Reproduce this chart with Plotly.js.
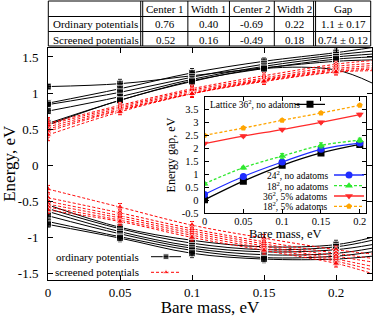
<!DOCTYPE html>
<html><head><meta charset="utf-8">
<script src="https://cdn.plot.ly/plotly-3.0.1.min.js"></script>
<style>html,body{margin:0;padding:0;background:#fff}#chart{width:374px;height:317px}</style>
</head><body><div id="chart"></div>
<script>
// ---------- main plot data ----------
const massMain = [0, 0.05, 0.1, 0.15, 0.2, 0.225];
// ordinary potentials, upper branch
const ordUp1 = [1.09, 1.13, 1.24, 1.35, 1.44, 1.46];
const ordUp2 = [0.86, 1.06, 1.28, 1.44, 1.56, 1.63];
const ordUp3 = [0.84, 1.01, 1.22, 1.40, 1.53, 1.58];
const ordUp4 = [0.75, 0.95, 1.19, 1.37, 1.50, 1.54];
const ordUp5 = [0.58, 0.90, 1.17, 1.34, 1.47, 1.50];
const ordUp6 = [0.56, 0.90, 1.16, 1.34, 1.32, 1.14];
// ordinary potentials, lower branch
const ordLo1 = [-0.55, -0.86, -1.04, -1.13, -1.10, -1.00];
const ordLo2 = [-0.60, -0.88, -1.08, -1.17, -1.13, -1.04];
const ordLo3 = [-0.64, -0.92, -1.12, -1.20, -1.17, -1.10];
const ordLo4 = [-0.70, -0.95, -1.15, -1.24, -1.22, -1.15];
const ordLo5 = [-0.78, -0.99, -1.18, -1.28, -1.26, -1.20];
const ordLo6 = [-0.82, -1.01, -1.22, -1.30, -1.30, -1.26];
// screened potentials, upper branch
const scrUp1 = [0.58, 0.83, 1.06, 1.24, 1.40, 1.45];
const scrUp2 = [0.56, 0.81, 1.04, 1.21, 1.37, 1.41];
const scrUp3 = [0.53, 0.79, 1.02, 1.19, 1.34, 1.38];
const scrUp4 = [0.50, 0.77, 1.00, 1.18, 1.32, 1.35];
const scrUp5 = [0.47, 0.76, 0.99, 1.17, 1.30, 1.33];
const scrUp6 = [0.42, 0.74, 0.99, 1.16, 1.29, 1.31];
// screened potentials, lower branch
const scrLo1 = [-0.33, -0.58, -0.83, -1.01, -1.17, -1.23];
const scrLo2 = [-0.45, -0.66, -0.88, -1.06, -1.22, -1.29];
const scrLo3 = [-0.50, -0.70, -0.91, -1.09, -1.26, -1.34];
const scrLo4 = [-0.54, -0.73, -0.94, -1.12, -1.30, -1.40];
const scrLo5 = [-0.58, -0.76, -0.97, -1.15, -1.33, -1.45];
const scrLo6 = [-0.62, -0.78, -1.00, -1.18, -1.36, -1.50];
// error bars (only at the computed masses 0..0.2)
const errOrdUp = [0.03, 0.06, 0.06, 0.05, 0.05];
const errOrdLo = [0.04, 0.05, 0.06, 0.05, 0.06];
const errScrUp = [0.08, 0.04, 0.05, 0.04, 0.04];
const errScrLo = [0.05, 0.05, 0.05, 0.05, 0.05];

const mainXTicks = [0, 0.05, 0.1, 0.15, 0.2];
const mainXTickText = ['0', '0.05', '0.1', '0.15', '0.2'];
const mainYTicks = [-1.5, -1, -0.5, 0, 0.5, 1, 1.5];
const mainYTickText = ['-1.5', '-1', '-0.5', '0', '0.5', '1', '1.5'];

// ---------- inset data ----------
const massInset = [0, 0.05, 0.1, 0.15, 0.2];
const gapLattice36 = [0.02, 0.74, 1.35, 1.83, 2.16];
const gap24 = [0.23, 0.92, 1.48, 1.97, 2.21];
const gap18 = [0.64, 1.26, 1.71, 2.12, 2.32];
const gap36Adatoms = [2.19, 2.48, 2.73, 3.01, 3.31];
const gap18Adatoms = [2.51, 2.79, 3.09, 3.37, 3.67];
const errLattice36 = [0.03, 0.04, 0.05, 0.05, 0.06];
const err24 = [0.03, 0.04, 0.05, 0.07, 0.06];
const err18 = [0.05, 0.05, 0.10, 0.10, 0.08];
const err36Adatoms = [0.03, 0.04, 0.04, 0.04, 0.05];
const err18Adatoms = [0.03, 0.04, 0.04, 0.04, 0.04];
const insetXTicks = [0, 0.05, 0.1, 0.15, 0.2];
const insetXTickText = ['0', '0.05', '0.1', '0.15', '0.2'];
const insetYTicks = [-0.5, 0, 0.5, 1, 1.5, 2, 2.5, 3, 3.5];
const insetYTickText = ['-0.5', '0', '0.5', '1', '1.5', '2', '2.5', '3', '3.5'];

// ---------- table data ----------
const tableHeader = ['', 'Center 1', 'Width 1', 'Center 2', 'Width 2', 'Gap'];
const rowOrdinary = ['Ordinary potentials', '0.76', '0.40', '-0.69', '0.22', '1.1 ± 0.17'];
const rowScreened = ['Screened potentials', '0.52', '0.16', '-0.49', '0.18', '0.74 ± 0.12'];

// ---------- build ----------
const SERIF = 'Liberation Serif, Times New Roman, serif';
const W = 374, H = 317;
const M = {l: 48, r: 1, t: 1, b: 37};
const PW = W - M.l - M.r, PH = H - M.t - M.b;
const px = x => (x - M.l) / PW;          // pixel -> paper x
const py = y => (H - M.b - y) / PH;      // pixel -> paper y

const traces = [];
function mainSeries(yv, err, color, symbol, size, dash, legendId) {
  const sizes = massMain.map((m, i) => i < err.length ? size : 0);
  traces.push({
    type: 'scatter', mode: 'lines+markers', x: massMain, y: yv,
    xaxis: 'x', yaxis: 'y', name: '',
    showlegend: !!legendId, legend: legendId || 'legend',
    line: {color: color, width: 1, shape: 'spline', dash: dash},
    marker: {color: color, symbol: symbol, size: sizes},
    error_y: {type: 'data', array: err, color: color, thickness: 1, width: 2},
    hoverinfo: 'skip'
  });
}
const ordUp = [ordUp1, ordUp2, ordUp3, ordUp4, ordUp5, ordUp6];
const ordLo = [ordLo1, ordLo2, ordLo3, ordLo4, ordLo5, ordLo6];
const scrUp = [scrUp1, scrUp2, scrUp3, scrUp4, scrUp5, scrUp6];
const scrLo = [scrLo1, scrLo2, scrLo3, scrLo4, scrLo5, scrLo6];
ordUp.forEach((s, i) => mainSeries(s, errOrdUp, '#000000', 'square', 7, 'solid', i === 0 ? 'legend' : null));
ordLo.forEach(s => mainSeries(s, errOrdLo, '#000000', 'square', 7, 'solid', null));
scrUp.forEach((s, i) => mainSeries(s, errScrUp, '#ff0000', 'triangle-up', 7, '3px,2px', i === 0 ? 'legend2' : null));
scrLo.forEach(s => mainSeries(s, errScrLo, '#ff0000', 'triangle-up', 7, '3px,2px', null));

function insetSeries(yv, err, color, symbol, size, dash, legendId) {
  traces.push({
    type: 'scatter', mode: 'lines+markers', x: massInset, y: yv,
    xaxis: 'x2', yaxis: 'y2', name: '', showlegend: true, legend: legendId,
    line: {color: color, width: 1.3, shape: 'spline', dash: dash},
    marker: {color: color, symbol: symbol, size: size},
    error_y: {type: 'data', array: err, color: color, thickness: 1, width: 2},
    hoverinfo: 'skip'
  });
}
insetSeries(gapLattice36, errLattice36, '#000000', 'square', 7, 'solid', 'legend3');
insetSeries(gap24, err24, '#1f2cff', 'circle', 7, 'solid', 'legend4');
insetSeries(gap18, err18, '#2ee82e', 'triangle-up', 7, '3px,2px', 'legend5');
insetSeries(gap36Adatoms, err36Adatoms, '#ff2a2a', 'triangle-down', 7, 'solid', 'legend6');
insetSeries(gap18Adatoms, err18Adatoms, '#ffa500', 'pentagon', 6, '3px,2px', 'legend7');

function legendAt(cx, cy) {
  return {x: px(cx) - 20 / PW, y: py(cy), xanchor: 'left', yanchor: 'middle',
    bgcolor: 'rgba(0,0,0,0)', borderwidth: 0, font: {family: SERIF, size: 10},
    itemwidth: 30, tracegroupgap: 0};
}

function axisCommon(extra) {
  return Object.assign({showline: true, linecolor: '#000', linewidth: 1, mirror: 'ticks',
    ticks: 'inside', tickcolor: '#000', showgrid: false, zeroline: false, tickmode: 'array'}, extra);
}

// table drawn as layout lines + text
const tblLeft = 48.3, tblRight = 371.7;
const tblColEdges = [48.3, 143, 188.3, 230, 275, 316.4, 371.7];
const tblDoubleEdges = [141, 314.4];
const tblRowEdges = [1, 16.5, 31.5, 46];
const tblRowCenters = [9, 24.5, 39.5];
const shapes = [];
const lineStyle = {color: '#000', width: 1};
tblColEdges.concat(tblDoubleEdges).forEach(x => shapes.push({type: 'line', xref: 'paper', yref: 'paper',
  x0: px(x), x1: px(x), y0: py(tblRowEdges[0]), y1: py(tblRowEdges[3]), line: lineStyle}));
tblRowEdges.forEach(y => shapes.push({type: 'line', xref: 'paper', yref: 'paper',
  x0: px(tblLeft), x1: px(tblRight), y0: py(y), y1: py(y), line: lineStyle}));

const annotations = [];
[tableHeader, rowOrdinary, rowScreened].forEach((row, r) => {
  row.forEach((txt, c) => {
    if (!txt) return;
    const left = c === 0;
    annotations.push({text: txt, xref: 'paper', yref: 'paper',
      x: left ? px(tblColEdges[0] + 2.5) : px((tblColEdges[c] + tblColEdges[c + 1]) / 2),
      xanchor: left ? 'left' : 'center', y: py(tblRowCenters[r]), yanchor: 'middle',
      showarrow: false, font: {family: SERIF, size: 11, color: '#000'}});
  });
});
[
  {text: 'ordinary potentials', x: px(141), y: py(256.7), xanchor: 'right'},
  {text: 'screened potentials', x: px(141), y: py(272.3), xanchor: 'right'},
  {text: 'Lattice 36<sup>2</sup>, no adatoms', x: px(208), y: py(104.3), xanchor: 'left'},
  {text: '24<sup>2</sup>, no adatoms', x: px(331), y: py(175), xanchor: 'right'},
  {text: '18<sup>2</sup>, no adatoms', x: px(331), y: py(185.7), xanchor: 'right'},
  {text: '36<sup>2</sup>, 5% adatoms', x: px(331), y: py(196), xanchor: 'right'},
  {text: '18<sup>2</sup>, 5% adatoms', x: px(331), y: py(206.3), xanchor: 'right'}
].forEach(a => annotations.push(Object.assign({xref: 'paper', yref: 'paper', yanchor: 'middle',
  showarrow: false, font: {family: SERIF, size: a.text.indexOf('potentials') >= 0 ? 11 : 9.5, color: '#000'}}, a)));

const layout = {
  width: W, height: H, margin: M,
  paper_bgcolor: '#fff', plot_bgcolor: '#fff',
  font: {family: SERIF, color: '#000'},
  xaxis: axisCommon({domain: [0, 1], range: [0, 0.225], anchor: 'y', ticklen: 5,
    tickvals: mainXTicks, ticktext: mainXTickText, tickfont: {size: 13},
    ticklabelstandoff: 0,
    title: {text: 'Bare mass, eV', font: {size: 17}, standoff: 9}}),
  yaxis: axisCommon({domain: [0, 0.833], range: [-1.59, 1.63], anchor: 'x', ticklen: 5,
    tickvals: mainYTicks, ticktext: mainYTickText, tickfont: {size: 13},
    ticklabelstandoff: 6,
    title: {text: 'Energy, eV', font: {size: 17}, standoff: 13}}),
  xaxis2: axisCommon({domain: [px(205), px(367)], range: [0, 0.208], anchor: 'y2', ticklen: 4,
    tickvals: insetXTicks, ticktext: insetXTickText, tickfont: {size: 10.5},
    ticklabelstandoff: -2,
    title: {text: 'Bare mass, eV', font: {size: 12.5}, standoff: 0}}),
  yaxis2: axisCommon({domain: [py(213.3), py(96.7)], range: [-0.5, 4], anchor: 'x2', ticklen: 4,
    tickvals: insetYTicks, ticktext: insetYTickText, tickfont: {size: 10.5},
    ticklabelstandoff: 3,
    title: {text: 'Energy gap, eV', font: {size: 12}, standoff: 3}}),
  legend: legendAt(166, 256.7),
  legend2: legendAt(166, 272.3),
  legend3: legendAt(310, 104.3),
  legend4: legendAt(349, 175),
  legend5: legendAt(349, 185.7),
  legend6: legendAt(349, 196),
  legend7: legendAt(349, 206.3),
  shapes: shapes,
  annotations: annotations
};

Plotly.newPlot('chart', traces, layout, {staticPlot: true, displayModeBar: false});
</script>
</body></html>
